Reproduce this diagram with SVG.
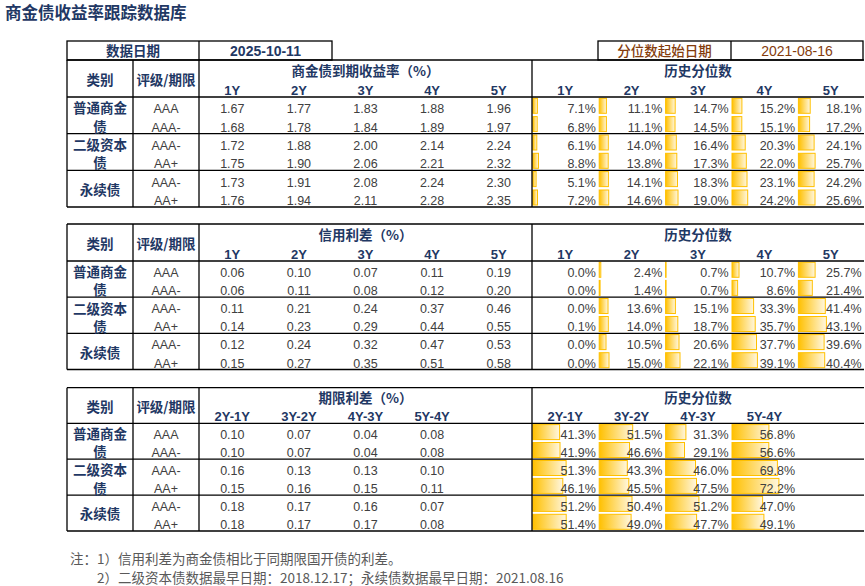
<svg xmlns="http://www.w3.org/2000/svg" width="865" height="586" viewBox="0 0 865 586">
<style>
.bg{fill:#ffffff}
.ln line,.ln rect{stroke:#000;stroke-width:1.3;fill:none}
.b{fill:url(#bar);stroke:#FFC000;stroke-width:1}
text{font-family:"Liberation Sans",Arial,sans-serif}
.ttl{font-family:"Noto Sans CJK SC",sans-serif;font-size:16.5px;font-weight:bold;fill:#1F3864}
.h{font-family:"Noto Sans CJK SC",sans-serif;font-size:13.5px;font-weight:bold;fill:#1F3864;text-anchor:middle}
.y{font-size:13px;font-weight:bold;fill:#1F3864;text-anchor:middle}
.n{font-size:12.5px;fill:#404040;text-anchor:middle}
.p{font-size:12.5px;fill:#404040;text-anchor:end}
.d1{font-size:14px;font-weight:bold;fill:#1F3864;text-anchor:middle}
.br{font-family:"Noto Sans CJK SC",sans-serif;font-size:13.5px;font-weight:500;fill:#843C0C;text-anchor:middle}
.d2{font-size:14px;fill:#843C0C;text-anchor:middle}
.note{font-family:"Noto Sans CJK SC",sans-serif;font-size:13.5px;fill:#595959}
</style>
<defs>
<linearGradient id="bar" x1="0" y1="0" x2="1" y2="0">
<stop offset="0" stop-color="#FFC000"/>
<stop offset="1" stop-color="#FFF7E0"/>
</linearGradient>
</defs>
<rect class="bg" x="0" y="0" width="865" height="586"/>
<g id="title"><text class="ttl" x="5" y="18.5">商金债收益率跟踪数据库</text></g>

<g id="date-boxes">
<g class="ln">
<rect x="67" y="41" width="265" height="19"/>
<line x1="199" y1="41" x2="199" y2="60"/>
<rect x="598" y="41" width="265" height="19"/>
<line x1="731" y1="41" x2="731" y2="60"/>
</g>
<text class="h" x="133" y="56">数据日期</text>
<text class="d1" x="265.5" y="56">2025-10-11</text>
<text class="br" x="664.5" y="56">分位数起始日期</text>
<text class="d2" x="797" y="56">2021-08-16</text>
</g>

<!-- TABLE 1 -->
<g id="table1">
<g id="t1-bars">
<rect class="b" x="532.8" y="98.3" width="4.6" height="15"/>
<rect class="b" x="599.2" y="98.3" width="7.2" height="15"/>
<rect class="b" x="665.6" y="98.3" width="9.6" height="15"/>
<rect class="b" x="732" y="98.3" width="9.9" height="15"/>
<rect class="b" x="798.4" y="98.3" width="11.8" height="15"/>
<rect class="b" x="532.8" y="116.6" width="4.4" height="15"/>
<rect class="b" x="599.2" y="116.6" width="7.2" height="15"/>
<rect class="b" x="665.6" y="116.6" width="9.4" height="15"/>
<rect class="b" x="732" y="116.6" width="9.8" height="15"/>
<rect class="b" x="798.4" y="116.6" width="11.2" height="15"/>
<rect class="b" x="532.8" y="135" width="4.0" height="15"/>
<rect class="b" x="599.2" y="135" width="9.1" height="15"/>
<rect class="b" x="665.6" y="135" width="10.7" height="15"/>
<rect class="b" x="732" y="135" width="13.2" height="15"/>
<rect class="b" x="798.4" y="135" width="15.7" height="15"/>
<rect class="b" x="532.8" y="153.3" width="5.7" height="15"/>
<rect class="b" x="599.2" y="153.3" width="9.0" height="15"/>
<rect class="b" x="665.6" y="153.3" width="11.2" height="15"/>
<rect class="b" x="732" y="153.3" width="14.3" height="15"/>
<rect class="b" x="798.4" y="153.3" width="16.7" height="15"/>
<rect class="b" x="532.8" y="171.6" width="3.3" height="15"/>
<rect class="b" x="599.2" y="171.6" width="9.2" height="15"/>
<rect class="b" x="665.6" y="171.6" width="11.9" height="15"/>
<rect class="b" x="732" y="171.6" width="15.0" height="15"/>
<rect class="b" x="798.4" y="171.6" width="15.7" height="15"/>
<rect class="b" x="532.8" y="190" width="4.7" height="15"/>
<rect class="b" x="599.2" y="190" width="9.5" height="15"/>
<rect class="b" x="665.6" y="190" width="12.4" height="15"/>
<rect class="b" x="732" y="190" width="15.7" height="15"/>
<rect class="b" x="798.4" y="190" width="16.6" height="15"/>
</g>
<g id="t1-lines" class="ln">
<line x1="67" y1="60" x2="864" y2="60"/>
<line x1="67" y1="97" x2="864" y2="97"/>
<line x1="67" y1="133.67" x2="864" y2="133.67"/>
<line x1="67" y1="170.33" x2="864" y2="170.33"/>
<line x1="67" y1="207" x2="864" y2="207"/>
<line x1="67" y1="60" x2="67" y2="207"/>
<line x1="133" y1="60" x2="133" y2="207"/>
<line x1="199" y1="60" x2="199" y2="207"/>
<line x1="532" y1="60" x2="532" y2="207"/>
</g>
<g id="t1-header">
<text class="h" x="100" y="85">类别</text>
<text class="h" x="166" y="85">评级/期限</text>
<text class="h" x="365.5" y="76">商金债到期收益率（%）</text>
<text class="h" x="698" y="76">历史分位数</text>
<text class="y" x="232.3" y="95">1Y</text><text class="y" x="298.9" y="95">2Y</text><text class="y" x="365.5" y="95">3Y</text><text class="y" x="432.1" y="95">4Y</text><text class="y" x="498.7" y="95">5Y</text>
<text class="y" x="565.2" y="95">1Y</text><text class="y" x="631.6" y="95">2Y</text><text class="y" x="698" y="95">3Y</text><text class="y" x="764.4" y="95">4Y</text><text class="y" x="830.8" y="95">5Y</text>
</g>
<g id="t1-rows">
<text class="h" x="100" y="113.3">普通商金</text><text class="h" x="100" y="131.7">债</text>
<text class="h" x="100" y="150">二级资本</text><text class="h" x="100" y="168.3">债</text>
<text class="h" x="100" y="195">永续债</text>
<text class="n" x="166" y="113.3">AAA</text><text class="n" x="166" y="131.7">AAA-</text><text class="n" x="166" y="150">AAA-</text><text class="n" x="166" y="168.3">AA+</text><text class="n" x="166" y="186.7">AAA-</text><text class="n" x="166" y="205">AA+</text>
<text class="n" x="232.3" y="113.3">1.67</text><text class="n" x="298.9" y="113.3">1.77</text><text class="n" x="365.5" y="113.3">1.83</text><text class="n" x="432.1" y="113.3">1.88</text><text class="n" x="498.7" y="113.3">1.96</text>
<text class="n" x="232.3" y="131.7">1.68</text><text class="n" x="298.9" y="131.7">1.78</text><text class="n" x="365.5" y="131.7">1.84</text><text class="n" x="432.1" y="131.7">1.89</text><text class="n" x="498.7" y="131.7">1.97</text>
<text class="n" x="232.3" y="150">1.72</text><text class="n" x="298.9" y="150">1.88</text><text class="n" x="365.5" y="150">2.00</text><text class="n" x="432.1" y="150">2.14</text><text class="n" x="498.7" y="150">2.24</text>
<text class="n" x="232.3" y="168.3">1.75</text><text class="n" x="298.9" y="168.3">1.90</text><text class="n" x="365.5" y="168.3">2.06</text><text class="n" x="432.1" y="168.3">2.21</text><text class="n" x="498.7" y="168.3">2.32</text>
<text class="n" x="232.3" y="186.7">1.73</text><text class="n" x="298.9" y="186.7">1.91</text><text class="n" x="365.5" y="186.7">2.08</text><text class="n" x="432.1" y="186.7">2.24</text><text class="n" x="498.7" y="186.7">2.30</text>
<text class="n" x="232.3" y="205">1.76</text><text class="n" x="298.9" y="205">1.94</text><text class="n" x="365.5" y="205">2.11</text><text class="n" x="432.1" y="205">2.28</text><text class="n" x="498.7" y="205">2.35</text>
<text class="p" x="595.9" y="113.3">7.1%</text><text class="p" x="662.3" y="113.3">11.1%</text><text class="p" x="728.7" y="113.3">14.7%</text><text class="p" x="795.1" y="113.3">15.2%</text><text class="p" x="861.5" y="113.3">18.1%</text>
<text class="p" x="595.9" y="131.7">6.8%</text><text class="p" x="662.3" y="131.7">11.1%</text><text class="p" x="728.7" y="131.7">14.5%</text><text class="p" x="795.1" y="131.7">15.1%</text><text class="p" x="861.5" y="131.7">17.2%</text>
<text class="p" x="595.9" y="150">6.1%</text><text class="p" x="662.3" y="150">14.0%</text><text class="p" x="728.7" y="150">16.4%</text><text class="p" x="795.1" y="150">20.3%</text><text class="p" x="861.5" y="150">24.1%</text>
<text class="p" x="595.9" y="168.3">8.8%</text><text class="p" x="662.3" y="168.3">13.8%</text><text class="p" x="728.7" y="168.3">17.3%</text><text class="p" x="795.1" y="168.3">22.0%</text><text class="p" x="861.5" y="168.3">25.7%</text>
<text class="p" x="595.9" y="186.7">5.1%</text><text class="p" x="662.3" y="186.7">14.1%</text><text class="p" x="728.7" y="186.7">18.3%</text><text class="p" x="795.1" y="186.7">23.1%</text><text class="p" x="861.5" y="186.7">24.2%</text>
<text class="p" x="595.9" y="205">7.2%</text><text class="p" x="662.3" y="205">14.6%</text><text class="p" x="728.7" y="205">19.0%</text><text class="p" x="795.1" y="205">24.2%</text><text class="p" x="861.5" y="205">25.6%</text>
</g>
</g>

<!-- TABLE 2 -->
<g id="table2">
<g id="t2-bars">
<rect class="b" x="599.2" y="262.3" width="1.6" height="15"/>
<rect class="b" x="665.6" y="262.3" width="0.5" height="15"/>
<rect class="b" x="732" y="262.3" width="7.0" height="15"/>
<rect class="b" x="798.4" y="262.3" width="16.7" height="15"/>
<rect class="b" x="599.2" y="280.4" width="0.9" height="15"/>
<rect class="b" x="665.6" y="280.4" width="0.5" height="15"/>
<rect class="b" x="732" y="280.4" width="5.6" height="15"/>
<rect class="b" x="798.4" y="280.4" width="13.9" height="15"/>
<rect class="b" x="599.2" y="298.5" width="8.8" height="15"/>
<rect class="b" x="665.6" y="298.5" width="9.8" height="15"/>
<rect class="b" x="732" y="298.5" width="21.6" height="15"/>
<rect class="b" x="798.4" y="298.5" width="26.9" height="15"/>
<rect class="b" x="599.2" y="316.5" width="9.1" height="15"/>
<rect class="b" x="665.6" y="316.5" width="12.2" height="15"/>
<rect class="b" x="732" y="316.5" width="23.2" height="15"/>
<rect class="b" x="798.4" y="316.5" width="28.0" height="15"/>
<rect class="b" x="599.2" y="334.6" width="6.8" height="15"/>
<rect class="b" x="665.6" y="334.6" width="13.4" height="15"/>
<rect class="b" x="732" y="334.6" width="24.5" height="15"/>
<rect class="b" x="798.4" y="334.6" width="25.7" height="15"/>
<rect class="b" x="599.2" y="352.7" width="9.8" height="15"/>
<rect class="b" x="665.6" y="352.7" width="14.4" height="15"/>
<rect class="b" x="732" y="352.7" width="25.4" height="15"/>
<rect class="b" x="798.4" y="352.7" width="26.3" height="15"/>
</g>
<g id="t2-lines" class="ln">
<line x1="67" y1="224" x2="864" y2="224"/>
<line x1="67" y1="261" x2="864" y2="261"/>
<line x1="67" y1="297.17" x2="864" y2="297.17"/>
<line x1="67" y1="333.33" x2="864" y2="333.33"/>
<line x1="67" y1="369.5" x2="864" y2="369.5"/>
<line x1="67" y1="224" x2="67" y2="369.5"/>
<line x1="133" y1="224" x2="133" y2="369.5"/>
<line x1="199" y1="224" x2="199" y2="369.5"/>
<line x1="532" y1="224" x2="532" y2="369.5"/>
</g>
<g id="t2-header">
<text class="h" x="100" y="249">类别</text>
<text class="h" x="166" y="249">评级/期限</text>
<text class="h" x="365.5" y="240">信用利差（%）</text>
<text class="h" x="698" y="240">历史分位数</text>
<text class="y" x="232.3" y="258.5">1Y</text><text class="y" x="298.9" y="258.5">2Y</text><text class="y" x="365.5" y="258.5">3Y</text><text class="y" x="432.1" y="258.5">4Y</text><text class="y" x="498.7" y="258.5">5Y</text>
<text class="y" x="565.2" y="258.5">1Y</text><text class="y" x="631.6" y="258.5">2Y</text><text class="y" x="698" y="258.5">3Y</text><text class="y" x="764.4" y="258.5">4Y</text><text class="y" x="830.8" y="258.5">5Y</text>
</g>
<g id="t2-rows">
<text class="h" x="100" y="276.8">普通商金</text><text class="h" x="100" y="295.2">债</text>
<text class="h" x="100" y="313.6">二级资本</text><text class="h" x="100" y="332">债</text>
<text class="h" x="100" y="357.8">永续债</text>
<text class="n" x="166" y="277.1">AAA</text><text class="n" x="166" y="295.2">AAA-</text><text class="n" x="166" y="313.3">AAA-</text><text class="n" x="166" y="331.3">AA+</text><text class="n" x="166" y="349.4">AAA-</text><text class="n" x="166" y="367.5">AA+</text>
<text class="n" x="232.3" y="277.1">0.06</text><text class="n" x="298.9" y="277.1">0.10</text><text class="n" x="365.5" y="277.1">0.07</text><text class="n" x="432.1" y="277.1">0.11</text><text class="n" x="498.7" y="277.1">0.19</text>
<text class="n" x="232.3" y="295.2">0.06</text><text class="n" x="298.9" y="295.2">0.11</text><text class="n" x="365.5" y="295.2">0.08</text><text class="n" x="432.1" y="295.2">0.12</text><text class="n" x="498.7" y="295.2">0.20</text>
<text class="n" x="232.3" y="313.3">0.11</text><text class="n" x="298.9" y="313.3">0.21</text><text class="n" x="365.5" y="313.3">0.24</text><text class="n" x="432.1" y="313.3">0.37</text><text class="n" x="498.7" y="313.3">0.46</text>
<text class="n" x="232.3" y="331.3">0.14</text><text class="n" x="298.9" y="331.3">0.23</text><text class="n" x="365.5" y="331.3">0.29</text><text class="n" x="432.1" y="331.3">0.44</text><text class="n" x="498.7" y="331.3">0.55</text>
<text class="n" x="232.3" y="349.4">0.12</text><text class="n" x="298.9" y="349.4">0.24</text><text class="n" x="365.5" y="349.4">0.32</text><text class="n" x="432.1" y="349.4">0.47</text><text class="n" x="498.7" y="349.4">0.53</text>
<text class="n" x="232.3" y="367.5">0.15</text><text class="n" x="298.9" y="367.5">0.27</text><text class="n" x="365.5" y="367.5">0.35</text><text class="n" x="432.1" y="367.5">0.51</text><text class="n" x="498.7" y="367.5">0.58</text>
<text class="p" x="595.9" y="277.1">0.0%</text><text class="p" x="662.3" y="277.1">2.4%</text><text class="p" x="728.7" y="277.1">0.7%</text><text class="p" x="795.1" y="277.1">10.7%</text><text class="p" x="861.5" y="277.1">25.7%</text>
<text class="p" x="595.9" y="295.2">0.0%</text><text class="p" x="662.3" y="295.2">1.4%</text><text class="p" x="728.7" y="295.2">0.7%</text><text class="p" x="795.1" y="295.2">8.6%</text><text class="p" x="861.5" y="295.2">21.4%</text>
<text class="p" x="595.9" y="313.3">0.0%</text><text class="p" x="662.3" y="313.3">13.6%</text><text class="p" x="728.7" y="313.3">15.1%</text><text class="p" x="795.1" y="313.3">33.3%</text><text class="p" x="861.5" y="313.3">41.4%</text>
<text class="p" x="595.9" y="331.3">0.1%</text><text class="p" x="662.3" y="331.3">14.0%</text><text class="p" x="728.7" y="331.3">18.7%</text><text class="p" x="795.1" y="331.3">35.7%</text><text class="p" x="861.5" y="331.3">43.1%</text>
<text class="p" x="595.9" y="349.4">0.0%</text><text class="p" x="662.3" y="349.4">10.5%</text><text class="p" x="728.7" y="349.4">20.6%</text><text class="p" x="795.1" y="349.4">37.7%</text><text class="p" x="861.5" y="349.4">39.6%</text>
<text class="p" x="595.9" y="367.5">0.0%</text><text class="p" x="662.3" y="367.5">15.0%</text><text class="p" x="728.7" y="367.5">22.1%</text><text class="p" x="795.1" y="367.5">39.1%</text><text class="p" x="861.5" y="367.5">40.4%</text>
</g>
</g>

<!-- TABLE 3 -->
<g id="table3">
<g id="t3-bars">
<rect class="b" x="532.8" y="424.6" width="26.8" height="15"/>
<rect class="b" x="599.2" y="424.6" width="33.5" height="15"/>
<rect class="b" x="665.6" y="424.6" width="20.3" height="15"/>
<rect class="b" x="732" y="424.6" width="36.9" height="15"/>
<rect class="b" x="532.8" y="442.5" width="27.2" height="15"/>
<rect class="b" x="599.2" y="442.5" width="30.3" height="15"/>
<rect class="b" x="665.6" y="442.5" width="18.9" height="15"/>
<rect class="b" x="732" y="442.5" width="36.8" height="15"/>
<rect class="b" x="532.8" y="460.5" width="33.3" height="15"/>
<rect class="b" x="599.2" y="460.5" width="28.1" height="15"/>
<rect class="b" x="665.6" y="460.5" width="29.9" height="15"/>
<rect class="b" x="732" y="460.5" width="45.4" height="15"/>
<rect class="b" x="532.8" y="478.4" width="30.0" height="15"/>
<rect class="b" x="599.2" y="478.4" width="29.6" height="15"/>
<rect class="b" x="665.6" y="478.4" width="30.9" height="15"/>
<rect class="b" x="732" y="478.4" width="46.9" height="15"/>
<rect class="b" x="532.8" y="496.4" width="33.3" height="15"/>
<rect class="b" x="599.2" y="496.4" width="32.8" height="15"/>
<rect class="b" x="665.6" y="496.4" width="33.3" height="15"/>
<rect class="b" x="732" y="496.4" width="30.6" height="15"/>
<rect class="b" x="532.8" y="514.3" width="33.4" height="15"/>
<rect class="b" x="599.2" y="514.3" width="31.9" height="15"/>
<rect class="b" x="665.6" y="514.3" width="31.0" height="15"/>
<rect class="b" x="732" y="514.3" width="31.9" height="15"/>
</g>
<g id="t3-lines" class="ln">
<line x1="67" y1="387.7" x2="864" y2="387.7"/>
<line x1="67" y1="423.3" x2="864" y2="423.3"/>
<line x1="67" y1="459.2" x2="864" y2="459.2"/>
<line x1="67" y1="495.1" x2="864" y2="495.1"/>
<line x1="67" y1="531" x2="864" y2="531"/>
<line x1="67" y1="387.7" x2="67" y2="531"/>
<line x1="133" y1="387.7" x2="133" y2="531"/>
<line x1="199" y1="387.7" x2="199" y2="531"/>
<line x1="532" y1="387.7" x2="532" y2="531"/>
</g>
<g id="t3-header">
<text class="h" x="100" y="412">类别</text>
<text class="h" x="166" y="412">评级/期限</text>
<text class="h" x="365.5" y="402.5">期限利差（%）</text>
<text class="h" x="698" y="402.5">历史分位数</text>
<text class="y" x="232.3" y="421">2Y-1Y</text><text class="y" x="298.9" y="421">3Y-2Y</text><text class="y" x="365.5" y="421">4Y-3Y</text><text class="y" x="432.1" y="421">5Y-4Y</text>
<text class="y" x="565.2" y="421">2Y-1Y</text><text class="y" x="631.6" y="421">3Y-2Y</text><text class="y" x="698" y="421">4Y-3Y</text><text class="y" x="764.4" y="421">5Y-4Y</text>
</g>
<g id="t3-rows">
<text class="h" x="100" y="438.5">普通商金</text><text class="h" x="100" y="456.9">债</text>
<text class="h" x="100" y="475.3">二级资本</text><text class="h" x="100" y="493.7">债</text>
<text class="h" x="100" y="519.4">永续债</text>
<text class="n" x="166" y="439.25">AAA</text><text class="n" x="166" y="457.2">AAA-</text><text class="n" x="166" y="475.15">AAA-</text><text class="n" x="166" y="493.1">AA+</text><text class="n" x="166" y="511.05">AAA-</text><text class="n" x="166" y="529">AA+</text>
<text class="n" x="232.3" y="439.25">0.10</text><text class="n" x="298.9" y="439.25">0.07</text><text class="n" x="365.5" y="439.25">0.04</text><text class="n" x="432.1" y="439.25">0.08</text>
<text class="n" x="232.3" y="457.2">0.10</text><text class="n" x="298.9" y="457.2">0.07</text><text class="n" x="365.5" y="457.2">0.04</text><text class="n" x="432.1" y="457.2">0.08</text>
<text class="n" x="232.3" y="475.15">0.16</text><text class="n" x="298.9" y="475.15">0.13</text><text class="n" x="365.5" y="475.15">0.13</text><text class="n" x="432.1" y="475.15">0.10</text>
<text class="n" x="232.3" y="493.1">0.15</text><text class="n" x="298.9" y="493.1">0.16</text><text class="n" x="365.5" y="493.1">0.15</text><text class="n" x="432.1" y="493.1">0.11</text>
<text class="n" x="232.3" y="511.05">0.18</text><text class="n" x="298.9" y="511.05">0.17</text><text class="n" x="365.5" y="511.05">0.16</text><text class="n" x="432.1" y="511.05">0.07</text>
<text class="n" x="232.3" y="529">0.18</text><text class="n" x="298.9" y="529">0.17</text><text class="n" x="365.5" y="529">0.17</text><text class="n" x="432.1" y="529">0.08</text>
<text class="p" x="595.9" y="439.25">41.3%</text><text class="p" x="662.3" y="439.25">51.5%</text><text class="p" x="728.7" y="439.25">31.3%</text><text class="p" x="795.1" y="439.25">56.8%</text>
<text class="p" x="595.9" y="457.2">41.9%</text><text class="p" x="662.3" y="457.2">46.6%</text><text class="p" x="728.7" y="457.2">29.1%</text><text class="p" x="795.1" y="457.2">56.6%</text>
<text class="p" x="595.9" y="475.15">51.3%</text><text class="p" x="662.3" y="475.15">43.3%</text><text class="p" x="728.7" y="475.15">46.0%</text><text class="p" x="795.1" y="475.15">69.8%</text>
<text class="p" x="595.9" y="493.1">46.1%</text><text class="p" x="662.3" y="493.1">45.5%</text><text class="p" x="728.7" y="493.1">47.5%</text><text class="p" x="795.1" y="493.1">72.2%</text>
<text class="p" x="595.9" y="511.05">51.2%</text><text class="p" x="662.3" y="511.05">50.4%</text><text class="p" x="728.7" y="511.05">51.2%</text><text class="p" x="795.1" y="511.05">47.0%</text>
<text class="p" x="595.9" y="529">51.4%</text><text class="p" x="662.3" y="529">49.0%</text><text class="p" x="728.7" y="529">47.7%</text><text class="p" x="795.1" y="529">49.1%</text>
</g>
</g>

<g id="notes">
<text class="note" x="70" y="564">注：1）信用利差为商金债相比于同期限国开债的利差。</text>
<text class="note" x="97" y="583">2）二级资本债数据最早日期：2018.12.17；永续债数据最早日期：2021.08.16</text>
</g>
</svg>
